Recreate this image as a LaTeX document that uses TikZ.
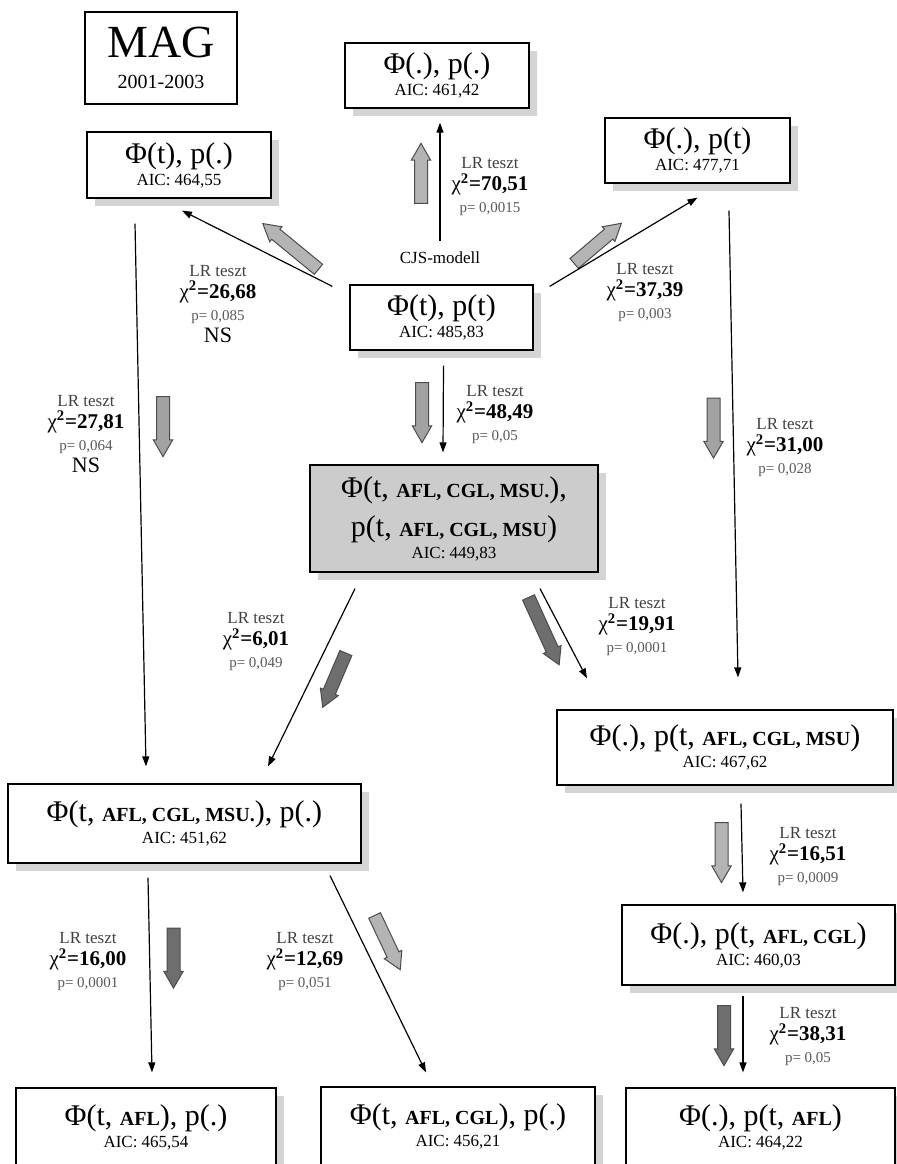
\documentclass[tikz,border=0pt]{standalone}
\usepackage{fontspec}
\setmainfont{Liberation Serif}
\usepackage{tikz}
\usetikzlibrary{arrows.meta,shapes.arrows,shadows}
\definecolor{lightfat}{HTML}{B4B4B4}
\definecolor{midfat}{HTML}{A2A2A2}
\definecolor{darkfat}{HTML}{6E6E6E}
\definecolor{shade}{HTML}{D4D4D4}
\newcommand{\ttl}{\fontsize{15}{17}\selectfont}
\newcommand{\cty}[1]{{\fontsize{10}{11}\selectfont\bfseries #1}}
\newcommand{\ns}{{\fontsize{11}{11}\selectfont NS}}
\newcommand{\lrt}[2]{{\color{black!75}LR teszt}\\{\fontsize{10.5}{11}\selectfont χ\textbf{\textsuperscript{2}=#1}}\\{\fontsize{7.5}{11}\selectfont\color{black!65}p= #2}}
\tikzset{
  ar/.style={-{Triangle[length=5pt,width=3.5pt]},line width=0.6pt},
  plain/.style={draw,line width=0.6pt,fill=white,align=center,inner sep=2pt,font=\fontsize{8.5}{11}\selectfont},
  box/.style={plain,drop shadow={shadow xshift=4pt,shadow yshift=-4pt,fill=shade,opacity=1}},
  lr/.style={align=center,font=\fontsize{8.5}{11}\selectfont,inner sep=0pt},
  fat/.style={single arrow,draw=black!70,line width=0.5pt,inner sep=3pt,single arrow head extend=1.6pt,single arrow tip angle=60,minimum height=30pt}
}
\begin{document}
\begin{tikzpicture}[x=0.5pt,y=-0.5pt]
\useasboundingbox (0,0) rectangle (897,1164);
% models
\node[plain,minimum width=76pt,minimum height=46pt,font=\fontsize{10}{15.5}\selectfont] (mag) at (161,58) {{\fontsize{23}{26}\selectfont MAG}\\2001-2003};
\node[box,minimum width=92pt,minimum height=32.5pt] (pdd) at (437,75.5) {\ttl Φ(.), p(.)\\AIC: 461,42};
\node[box,minimum width=92pt,minimum height=33pt] (tdot) at (179,165) {\ttl Φ(t), p(.)\\AIC: 464,55};
\node[box,minimum width=92.5pt,minimum height=32.5pt] (dott) at (697.5,150.5) {\ttl Φ(.), p(t)\\AIC: 477,71};
\node[box,minimum width=91.5pt,minimum height=32.5pt] (tt) at (441.5,317.5) {\ttl Φ(t), p(t)\\AIC: 485,83};
\node[box,fill=black!20,minimum width=144pt,minimum height=53.5pt] (full) at (454,518.5) {\ttl Φ(t, \cty{AFL, CGL, MSU.}),\\[5pt]\ttl p(t, \cty{AFL, CGL, MSU})\\AIC: 449,83};
\node[box,minimum width=168pt,minimum height=37.5pt] (dotp3) at (725,747.5) {\ttl Φ(.), p(t, \cty{AFL, CGL, MSU})\\AIC: 467,62};
\node[box,minimum width=176.5pt,minimum height=39.5pt] (phi3) at (184.5,823.5) {\ttl Φ(t, \cty{AFL, CGL, MSU.}), p(.)\\AIC: 451,62};
\node[box,minimum width=136.5pt,minimum height=40pt] (dotp2) at (758.5,945) {\ttl Φ(.), p(t, \cty{AFL, CGL})\\AIC: 460,03};
\node[box,minimum width=130pt,minimum height=39pt] (phi1) at (146,1127) {\ttl Φ(t, \cty{AFL}), p(.)\\AIC: 465,54};
\node[box,minimum width=137pt,minimum height=39.5pt] (phi2) at (458,1126.5) {\ttl Φ(t, \cty{AFL, CGL}), p(.)\\AIC: 456,21};
\node[box,minimum width=134.5pt,minimum height=39pt] (dotp1) at (760.5,1127) {\ttl Φ(.), p(t, \cty{AFL})\\AIC: 464,22};
\node[font=\fontsize{8.5}{10}\selectfont] (cjs) at (440,258) {CJS-modell};
% tests
\node[lr] (l70) at (490,187) {\lrt{70,51}{0,0015}};
\node[lr] (l26) at (218,304) {\lrt{26,68}{0,085}\\\ns};
\node[lr] (l37) at (645,293) {\lrt{37,39}{0,003}};
\node[lr] (l48) at (495,415) {\lrt{48,49}{0,05}};
\node[lr] (l27) at (86,434) {\lrt{27,81}{0,064}\\\ns};
\node[lr] (l31) at (785,448) {\lrt{31,00}{0,028}};
\node[lr] (l6) at (256,642) {\lrt{6,01}{0,049}};
\node[lr] (l19) at (637,627) {\lrt{19,91}{0,0001}};
\node[lr] (l16b) at (808,857) {\lrt{16,51}{0,0009}};
\node[lr] (l16) at (88,962) {\lrt{16,00}{0,0001}};
\node[lr] (l12) at (305,962) {\lrt{12,69}{0,051}};
\node[lr] (l38) at (808,1037) {\lrt{38,31}{0,05}};
% fat arrows
\node[fat,fill=lightfat,rotate=90] (fup) at (421,179) {};
\node[fat,fill=lightfat,rotate=140.6,minimum height=36pt] (fnw) at (295,250) {};
\node[fat,fill=lightfat,rotate=40.4,minimum height=31pt] (fne) at (593.5,247) {};
\node[fat,fill=midfat,rotate=-90] (fc) at (422,407) {};
\node[fat,fill=midfat,rotate=-90] (fl) at (163,421) {};
\node[fat,fill=midfat,rotate=-90] (fr) at (713.5,422.5) {};
\node[fat,fill=darkfat,rotate=-113.1,minimum height=29.5pt] (fsw) at (336.5,675) {};
\node[fat,fill=darkfat,rotate=-65.5,minimum height=37pt] (fse) at (541.5,626) {};
\node[fat,fill=lightfat,rotate=-90] (fr2) at (721.5,847) {};
\node[fat,fill=darkfat,rotate=-90] (fl2) at (173.5,952.5) {};
\node[fat,fill=lightfat,rotate=-64.7] (fm2) at (385,937.5) {};
\node[fat,fill=darkfat,rotate=-90] (fr3) at (724,1030) {};
% connectors
\draw[ar] ([yshift=2pt]cjs.north) -- ([yshift=-7pt]cjs.north |- pdd.south);
\draw[ar] ([xshift=-8.5pt,yshift=-1pt]tt.north west) -- ([xshift=1.5pt,yshift=-6pt]tdot.south);
\draw[ar] ([xshift=8pt,yshift=-1pt]tt.north east) -- ([yshift=-7pt]dott.south);
\draw[ar] ([xshift=1pt,yshift=-7.5pt]tt.south) -- ([xshift=-5.5pt,yshift=6pt]full.north);
\draw[ar] ([xshift=-22pt,yshift=-12.5pt]tdot.south) -- ([xshift=-19.25pt,yshift=8.5pt]phi3.north);
\draw[ar] ([xshift=15.75pt,yshift=-13.5pt]dott.south) -- ([xshift=6.5pt,yshift=16pt]dotp3.north);
\draw[ar] ([xshift=-49.5pt,yshift=-8pt]full.south) -- ([xshift=41.75pt,yshift=8.5pt]phi3.north);
\draw[ar] ([xshift=43pt,yshift=-8pt]full.south) -- ([xshift=-69pt,yshift=15.5pt]dotp3.north);
\draw[ar] ([xshift=8pt,yshift=-9pt]dotp3.south) -- ([xshift=-7.75pt,yshift=6pt]dotp2.north);
\draw[ar] ([xshift=-18.25pt,yshift=-7pt]phi3.south) -- ([xshift=3pt,yshift=7.5pt]phi1.north);
\draw[ar] ([xshift=72.75pt,yshift=-6pt]phi3.south) -- ([xshift=-16pt,yshift=7pt]phi2.north);
\draw[ar] ([xshift=-7.75pt,yshift=-5pt]dotp2.south) -- ([xshift=-8.75pt,yshift=7.5pt]dotp1.north);
\end{tikzpicture}
\end{document}
